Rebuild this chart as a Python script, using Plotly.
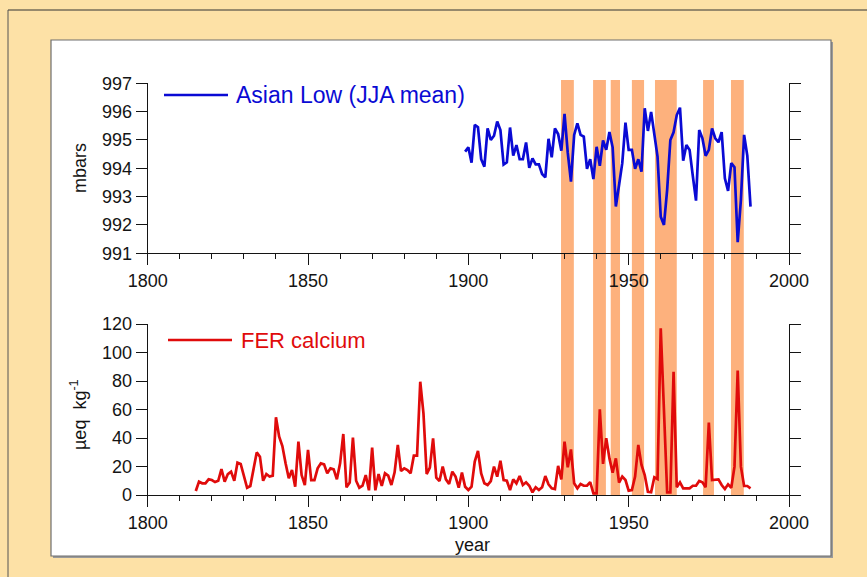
import plotly.graph_objects as go

# ---------------- data ----------------
years_al = list(range(1899, 1989))
asian_low = [
    994.59, 994.74, 994.20, 995.53, 995.45, 994.32, 994.06, 995.41, 995.00, 995.15,
    995.65, 995.35, 994.13, 994.21, 995.44, 994.45, 994.82, 994.32, 994.32, 994.91,
    994.02, 994.35, 994.14, 994.14, 993.80, 993.68, 995.04, 994.39, 995.41, 995.21,
    994.62, 995.92, 994.55, 993.53, 995.18, 995.59, 995.18, 995.12, 993.98, 994.32,
    993.62, 994.76, 994.09, 994.98, 994.65, 995.28, 994.74, 992.65, 993.41, 994.18,
    995.61, 994.65, 994.65, 993.98, 994.32, 993.88, 996.12, 995.32, 995.99, 995.12,
    994.41, 992.29, 992.00, 993.24, 995.00, 995.27, 995.88, 996.14, 994.27, 994.82,
    994.65, 993.73, 992.86, 995.35, 995.06, 994.44, 994.65, 995.41, 995.06, 994.92,
    995.28, 993.65, 993.20, 994.18, 994.04, 991.39, 992.88, 995.18, 994.44, 992.65,
]

years_ca = list(range(1815, 1989))
calcium = [
    2.8, 9.4, 8.2, 8.2, 11.0, 10.5, 9.1, 10.0, 18.2, 9.4,
    14.7, 16.4, 10.0, 22.7, 21.8, 14.0, 5.1, 6.3, 17.5, 29.9,
    26.9, 10.0, 14.7, 12.9, 13.6, 54.5, 40.9, 34.4, 22.2, 11.7,
    17.5, 5.8, 37.4, 14.0, 7.0, 31.6, 10.5, 10.5, 18.7, 22.2,
    21.5, 15.2, 18.7, 18.0, 11.0, 22.2, 42.8, 5.4, 8.7, 40.2,
    10.0, 5.1, 6.5, 14.0, 3.3, 33.2, 3.3, 14.7, 6.3, 15.2,
    13.6, 7.0, 15.9, 35.1, 16.8, 18.7, 17.5, 15.2, 27.6, 27.6,
    79.5, 57.3, 14.7, 19.2, 39.8, 12.2, 9.8, 19.9, 11.0, 7.7,
    16.4, 12.9, 5.1, 15.7, 5.8, 3.5, 5.8, 23.4, 30.9, 15.2,
    8.2, 7.0, 9.8, 19.9, 12.9, 24.1, 10.5, 10.0, 3.5, 11.0,
    8.2, 13.3, 7.0, 8.9, 6.5, 1.9, 5.4, 3.5, 5.4, 13.3,
    7.5, 4.7, 4.2, 20.4, 11.0, 37.4, 19.4, 32.0, 8.2, 4.7,
    7.7, 6.5, 6.5, 9.1, 1.2, 1.2, 60.1, 21.8, 39.8, 25.7,
    15.7, 25.7, 8.7, 12.9, 10.5, 3.0, 3.5, 12.9, 35.1, 21.1,
    14.0, 2.3, 1.9, 12.4, 11.2, 117.0, 59.6, 1.9, 1.9, 86.5,
    5.4, 8.9, 4.7, 4.7, 4.7, 6.5, 6.5, 9.8, 8.9, 5.4,
    50.8, 10.5, 10.5, 11.0, 7.0, 4.2, 7.5, 5.1, 19.9, 87.3,
    19.9, 6.3, 6.3, 4.7,
]

event_starts = [1928.9, 1938.9, 1944.4, 1951.0, 1958.2, 1973.2, 1981.9]
event_ends = [1932.9, 1942.9, 1947.3, 1954.8, 1965.0, 1976.6, 1985.9]

x_ticks = [1800, 1850, 1900, 1950, 2000]
y_ticks_top = [991, 992, 993, 994, 995, 996, 997]
y_ticks_bottom = [0, 20, 40, 60, 80, 100, 120]

# ---------------- styling ----------------
W, H = 867, 577
BLUE = "#0a0ad4"
RED = "#e00b0b"
ORANGE = "#fdb17d"
BEIGE = "#fde1a6"
AX = "#141414"
FONT = "Liberation Sans"


def px(x):
    return x / W


def py(y):
    return 1 - y / H


fig = go.Figure()
fig.add_trace(go.Scatter(x=years_al, y=asian_low, mode="lines",
                         line=dict(color=BLUE, width=2.7), xaxis="x", yaxis="y",
                         name="Asian Low (JJA mean)", hoverinfo="skip"))
fig.add_trace(go.Scatter(x=years_ca, y=calcium, mode="lines",
                         line=dict(color=RED, width=2.7), xaxis="x2", yaxis="y2",
                         name="FER calcium", hoverinfo="skip"))

xdom = [px(147.7), px(789)]
common_x = dict(range=[1800, 2000], tickvals=x_ticks, ticks="outside", ticklen=11,
                tickwidth=1.3, tickcolor=AX, showline=True, linecolor=AX, linewidth=1.3,
                showgrid=False, zeroline=False, domain=xdom, automargin=False,
                tickfont=dict(family=FONT, size=18, color=AX),
                minor=dict(tick0=1800, dtick=10, ticks="outside", ticklen=5,
                           tickwidth=1.3, tickcolor=AX, showgrid=False))
common_y = dict(ticks="outside", ticklen=11, tickwidth=1.3, tickcolor=AX,
                showline=True, mirror="ticks", linecolor=AX, linewidth=1.3,
                showgrid=False, zeroline=False, automargin=False,
                tickfont=dict(family=FONT, size=18, color=AX))

fig.update_layout(
    width=W, height=H, autosize=False,
    margin=dict(l=0, r=0, t=0, b=0, pad=0, autoexpand=False),
    paper_bgcolor=BEIGE,
    plot_bgcolor="rgba(0,0,0,0)",
    showlegend=False,
    xaxis=dict(anchor="y", **common_x),
    yaxis=dict(anchor="x", domain=[py(253.3), py(83.3)], range=[991, 997],
               tickvals=y_ticks_top, **common_y),
    xaxis2=dict(anchor="y2", **common_x),
    yaxis2=dict(anchor="x2", domain=[py(495), py(324)], range=[0, 120],
                tickvals=y_ticks_bottom, **common_y),
)

shapes = []
# white inner panel with a soft shadow on the right/bottom
shapes.append(dict(type="rect", xref="paper", yref="paper", x0=px(53), x1=px(833),
                   y0=py(558), y1=py(42), fillcolor="#9a9a9a",
                   line=dict(width=0), layer="below"))
shapes.append(dict(type="rect", xref="paper", yref="paper", x0=px(51), x1=px(831),
                   y0=py(556), y1=py(40), fillcolor="white",
                   line=dict(color="#6e6e6e", width=1.2), layer="below"))
# outer frame lines
shapes.append(dict(type="line", xref="paper", yref="paper", x0=px(8), x1=1,
                   y0=py(10), y1=py(10), line=dict(color="#333333", width=1), layer="below"))
shapes.append(dict(type="line", xref="paper", yref="paper", x0=px(8), x1=px(8),
                   y0=0, y1=py(10), line=dict(color="#555555", width=1), layer="below"))
# event bars
for s, e in zip(event_starts, event_ends):
    shapes.append(dict(type="rect", xref="x", yref="paper", x0=s, x1=e,
                       y0=py(495), y1=py(80), fillcolor=ORANGE,
                       line=dict(width=0), layer="below"))
# legend sample lines
shapes.append(dict(type="line", xref="paper", yref="paper", x0=px(164), x1=px(228),
                   y0=py(95), y1=py(95), line=dict(color=BLUE, width=2.7)))
shapes.append(dict(type="line", xref="paper", yref="paper", x0=px(168), x1=px(232),
                   y0=py(340), y1=py(340), line=dict(color=RED, width=2.7)))
fig.update_layout(shapes=shapes)

annotations = [
    dict(text="Asian Low (JJA mean)", x=px(234), y=py(95), xref="paper", yref="paper",
         xanchor="left", yanchor="middle", showarrow=False,
         font=dict(family=FONT, size=23, color=BLUE)),
    dict(text="FER calcium", x=px(239), y=py(340), xref="paper", yref="paper",
         xanchor="left", yanchor="middle", showarrow=False,
         font=dict(family=FONT, size=22, color=RED)),
    dict(text="mbars", x=px(80), y=py(168), xref="paper", yref="paper",
         xanchor="center", yanchor="middle", textangle=-90, showarrow=False,
         font=dict(family=FONT, size=18, color=AX)),
    dict(text="µeq  kg<sup>-1</sup>", x=px(78), y=py(415), xref="paper", yref="paper",
         xanchor="center", yanchor="middle", textangle=-90, showarrow=False,
         font=dict(family=FONT, size=18, color=AX)),
    dict(text="year", x=px(472), y=py(545), xref="paper", yref="paper",
         xanchor="center", yanchor="middle", showarrow=False,
         font=dict(family=FONT, size=18, color=AX)),
]
fig.update_layout(annotations=annotations)

fig.write_html("out.html", config={"displayModeBar": False},
               post_script="document.body.style.margin='0';document.body.style.overflow='hidden';")
